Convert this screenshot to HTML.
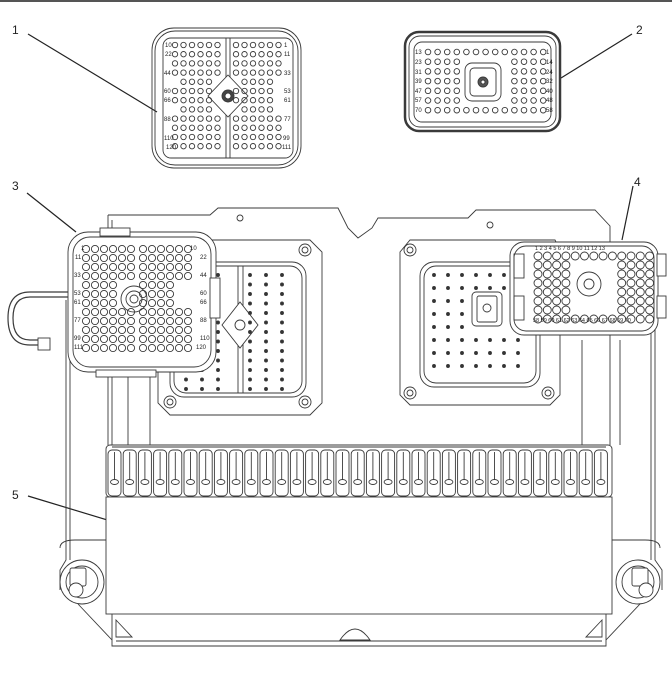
<!DOCTYPE html>
<html><head><meta charset="utf-8"><style>
html,body{margin:0;padding:0;background:#fff;}
svg{display:block;}
text{font-family:"Liberation Sans",sans-serif;fill:#222;}
</style></head><body>
<svg id="s" width="672" height="674" viewBox="0 0 672 674" xmlns="http://www.w3.org/2000/svg" fill="none" stroke="#3a3a3a" stroke-width="0.9">
<rect x="0" y="0" width="672" height="2" fill="#555" stroke="none"/>
<g stroke="#222" stroke-width="1.2">
<line x1="28" y1="34" x2="157" y2="112"/>
<line x1="632" y1="34" x2="561" y2="78"/>
<line x1="27" y1="193" x2="76" y2="232"/>
<line x1="633" y1="186" x2="622" y2="240"/>
<line x1="28" y1="496" x2="200" y2="548"/>
</g>
<g font-size="12" stroke="none">
<text x="12" y="34" fill="#222">1</text>
<text x="636" y="34" fill="#222">2</text>
<text x="12" y="190" fill="#222">3</text>
<text x="634" y="186" fill="#222">4</text>
<text x="12" y="499" fill="#222">5</text>
</g>

<rect x="152" y="28" width="149" height="140" rx="22"/>
<rect x="155" y="31" width="143" height="134" rx="20"/>
<rect x="163" y="38" width="130" height="120" rx="8"/>
<line x1="226" y1="38" x2="226" y2="158"/>
<line x1="230" y1="38" x2="230" y2="158"/>
<path d="M228 75 L248 96 L228 117 L208 96 Z" fill="#fff"/>
<circle cx="228" cy="96" r="6" fill="#444"/>
<circle cx="228" cy="96" r="3" fill="#fff"/>
<g id="c1"></g>
<g font-size="6" stroke="none" fill="#222">
<text x="165" y="47">10</text><text x="165" y="56">22</text><text x="164" y="75">44</text><text x="164" y="93">60</text><text x="164" y="102">66</text><text x="164" y="121">88</text><text x="164" y="140">110</text><text x="166" y="149">120</text>
<text x="284" y="47">1</text><text x="284" y="56">11</text><text x="284" y="75">33</text><text x="284" y="93">53</text><text x="284" y="102">61</text><text x="284" y="121">77</text><text x="283" y="140">99</text><text x="282" y="149">111</text>
</g>

<rect x="405" y="32" width="155" height="99" rx="14" stroke-width="2.5"/>
<rect x="409" y="36" width="147" height="91" rx="11"/>
<rect x="414" y="42" width="137" height="80" rx="8"/>
<rect x="465" y="63" width="36" height="38" rx="7"/>
<rect x="470" y="68" width="26" height="28" rx="4"/>
<circle cx="483" cy="82" r="5" fill="#555"/>
<circle cx="483" cy="82" r="2" fill="#fff"/>
<g id="c2"></g>
<g font-size="6" stroke="none" fill="#222">
<text x="415" y="54">13</text><text x="415" y="64">23</text><text x="415" y="74">31</text><text x="415" y="83">39</text><text x="415" y="93">47</text><text x="415" y="102">57</text><text x="415" y="112">70</text>
<text x="546" y="54">1</text><text x="546" y="64">14</text><text x="546" y="74">24</text><text x="546" y="83">32</text><text x="546" y="93">40</text><text x="546" y="102">48</text><text x="546" y="112">58</text>
</g>

<path d="M108 215 L210 215 L218 208 L338 208 L348 228 L358 238 L372 228 L378 218 L468 218 L476 210 L595 210 L610 226 L610 445"/>
<path d="M112 220 L112 445"/>
<path d="M108 215 L108 445"/>
<circle cx="240" cy="218" r="3"/><circle cx="490" cy="225" r="3"/>
<path d="M66 300 L66 560 L60 570 L60 590"/>
<path d="M70 300 L70 560"/>
<path d="M655 300 L655 560 L662 570 L662 590"/>
<path d="M651 300 L651 560"/>
<line x1="128" y1="370" x2="128" y2="445"/><line x1="150" y1="370" x2="150" y2="445"/>
<line x1="582" y1="340" x2="582" y2="445"/><line x1="620" y1="340" x2="620" y2="445"/>

<path d="M170 240 L310 240 L322 252 L322 403 L310 415 L170 415 L158 403 L158 252 Z" fill="#fff"/>
<rect x="170" y="262" width="136" height="135" rx="14"/>
<rect x="174" y="266" width="128" height="127" rx="12"/>
<circle cx="305" cy="250" r="6"/><circle cx="305" cy="250" r="3"/>
<circle cx="170" cy="402" r="6"/><circle cx="170" cy="402" r="3"/>
<circle cx="305" cy="402" r="6"/><circle cx="305" cy="402" r="3"/>
<line x1="238" y1="266" x2="238" y2="393"/><line x1="243" y1="266" x2="243" y2="393"/>
<path d="M240 302 L258 325 L240 348 L222 325 Z" fill="#fff"/>
<circle cx="240" cy="325" r="5"/>
<g id="s1"></g>

<path d="M400 252 L410 240 L555 240 L560 250 L560 395 L550 405 L410 405 L400 395 Z" fill="#fff"/>
<rect x="420" y="262" width="120" height="125" rx="14"/>
<rect x="424" y="266" width="112" height="117" rx="12"/>
<circle cx="410" cy="250" r="6"/><circle cx="410" cy="250" r="3"/>
<circle cx="410" cy="393" r="6"/><circle cx="410" cy="393" r="3"/>
<circle cx="548" cy="393" r="6"/><circle cx="548" cy="393" r="3"/>
<rect x="472" y="292" width="30" height="34" rx="4"/>
<rect x="477" y="296" width="20" height="26" rx="2"/>
<circle cx="487" cy="308" r="4"/>
<g id="s2"></g>

<path d="M70 292 L30 292 Q8 292 8 318 Q8 345 30 345 L46 345" stroke-width="1.2"/>
<path d="M70 297 L30 297 Q13 297 13 318 Q13 340 30 340 L46 340" stroke-width="1.2"/>
<rect x="38" y="338" width="12" height="12" fill="#fff"/>
<rect x="68" y="232" width="148" height="140" rx="20" fill="#fff"/>
<rect x="73" y="237" width="138" height="130" rx="17"/>
<circle cx="134" cy="299" r="13"/><circle cx="134" cy="299" r="8"/><circle cx="134" cy="299" r="4"/>
<rect x="210" y="278" width="10" height="40" fill="#fff"/>
<rect x="100" y="228" width="30" height="8" fill="#fff"/>
<rect x="96" y="370" width="60" height="7" fill="#fff"/>
<g id="c3"></g>
<g font-size="6" stroke="none" fill="#222">
<text x="81" y="250">1</text><text x="75" y="259">11</text><text x="74" y="277">33</text><text x="74" y="295">53</text><text x="74" y="304">61</text><text x="74" y="322">77</text><text x="74" y="340">99</text><text x="74" y="349">111</text>
<text x="190" y="250">10</text><text x="200" y="259">22</text><text x="200" y="277">44</text><text x="200" y="295">60</text><text x="200" y="304">66</text><text x="200" y="322">88</text><text x="200" y="340">110</text><text x="196" y="349">120</text>
</g>

<rect x="510" y="242" width="148" height="93" rx="14" fill="#fff"/>
<rect x="514" y="246" width="140" height="85" rx="12"/>
<rect x="657" y="254" width="9" height="22" fill="#fff"/>
<rect x="657" y="296" width="9" height="22" fill="#fff"/>
<rect x="514" y="254" width="10" height="24"/><rect x="514" y="296" width="10" height="24"/>
<circle cx="589" cy="284" r="12"/><circle cx="589" cy="284" r="5"/>
<g id="c4"></g>
<g font-size="5.5" stroke="none" fill="#222">
<text x="535" y="250">1  2  3  4  5  6  7  8  9 10 11 12 13</text>
<text x="533" y="322">58 59 60 61 62 63 64 65 66 67 68 69 70</text>
</g>

<rect x="106" y="445" width="506" height="52" rx="4" fill="#fff"/>
<line x1="112" y1="447" x2="606" y2="447"/>
<g id="fins"></g>
<rect x="106" y="497" width="506" height="117" fill="#fff"/>
<path d="M112 614 L112 646 L606 646 L606 614"/>
<line x1="116" y1="641" x2="602" y2="641"/>
<path d="M116 620 L132 637 L116 637 Z"/><path d="M602 620 L586 637 L602 637 Z"/>
<path d="M340 640 Q355 618 370 640 Z"/>
<path d="M60 548 Q60 540 75 540 L106 540"/><path d="M612 540 L645 540 Q660 540 660 548"/>
<circle cx="82" cy="582" r="22" fill="#fff"/><circle cx="82" cy="582" r="16"/>
<rect x="70" y="568" width="16" height="18" rx="2" fill="#fff"/>
<circle cx="76" cy="590" r="7" fill="#fff"/>
<circle cx="638" cy="582" r="22" fill="#fff"/><circle cx="638" cy="582" r="16"/>
<rect x="632" y="568" width="16" height="18" rx="2" fill="#fff"/>
<circle cx="646" cy="590" r="7" fill="#fff"/>
<line x1="78" y1="604" x2="112" y2="640"/><line x1="640" y1="604" x2="606" y2="640"/>
</svg>
<script>
var NS="http://www.w3.org/2000/svg";
function c(g,x,y,r,f){var e=document.createElementNS(NS,"circle");e.setAttribute("cx",x);e.setAttribute("cy",y);e.setAttribute("r",r);if(f)e.setAttribute("fill",f);document.getElementById(g).appendChild(e);}
var i,j;
for(j=0;j<12;j++)for(i=0;i<6;i++){if((j==4||j==7)&&(i==0||i==5))continue;if(j>=4&&j<=7&&i==5)continue;c("c1",175+i*8.5,45+j*9.2,2.7);c("c1",236+i*8.5,45+j*9.2,2.7);}
for(j=0;j<7;j++)for(i=0;i<13;i++){var x=428+i*9.6,y=52+j*9.7;if(j>0&&j<6&&x>458&&x<508)continue;if((j>=2&&j<=4)&&(i==4||i==8))continue;c("c2",x,y,2.8);}
for(j=0;j<12;j++)for(i=0;i<6;i++){var y=249+j*9;if(j>=4&&j<=6&&i>=4)continue;c("c3",86+i*9,y,3.6);c("c3",143+i*9,y,3.6);}
for(j=0;j<8;j++)for(i=0;i<13;i++){var x=538+i*9.3,y=256+j*9;if(j>0&&j<7&&i>=4&&i<=8)continue;c("c4",x,y,4);}
for(j=0;j<13;j++)for(i=0;i<7;i++){if(i!=3){c("s1",186+i*16,275+j*9.5,1.5,"#333");}}
for(j=0;j<8;j++)for(i=0;i<7;i++){var x=434+i*14,y=275+j*13;if(x>466&&x<506&&y>288&&y<330)continue;c("s2",x,y,1.5,"#333");}
var fg=document.getElementById("fins");
for(i=0;i<33;i++){var x=108+i*15.2;var r=document.createElementNS(NS,"rect");r.setAttribute("x",x);r.setAttribute("y",450);r.setAttribute("width",13);r.setAttribute("height",46);r.setAttribute("rx",4);fg.appendChild(r);
var l=document.createElementNS(NS,"line");l.setAttribute("x1",x+6.5);l.setAttribute("x2",x+6.5);l.setAttribute("y1",452);l.setAttribute("y2",480);fg.appendChild(l);
var e=document.createElementNS(NS,"ellipse");e.setAttribute("cx",x+6.5);e.setAttribute("cy",482);e.setAttribute("rx",4);e.setAttribute("ry",2.5);fg.appendChild(e);}
</script>
</body></html>
